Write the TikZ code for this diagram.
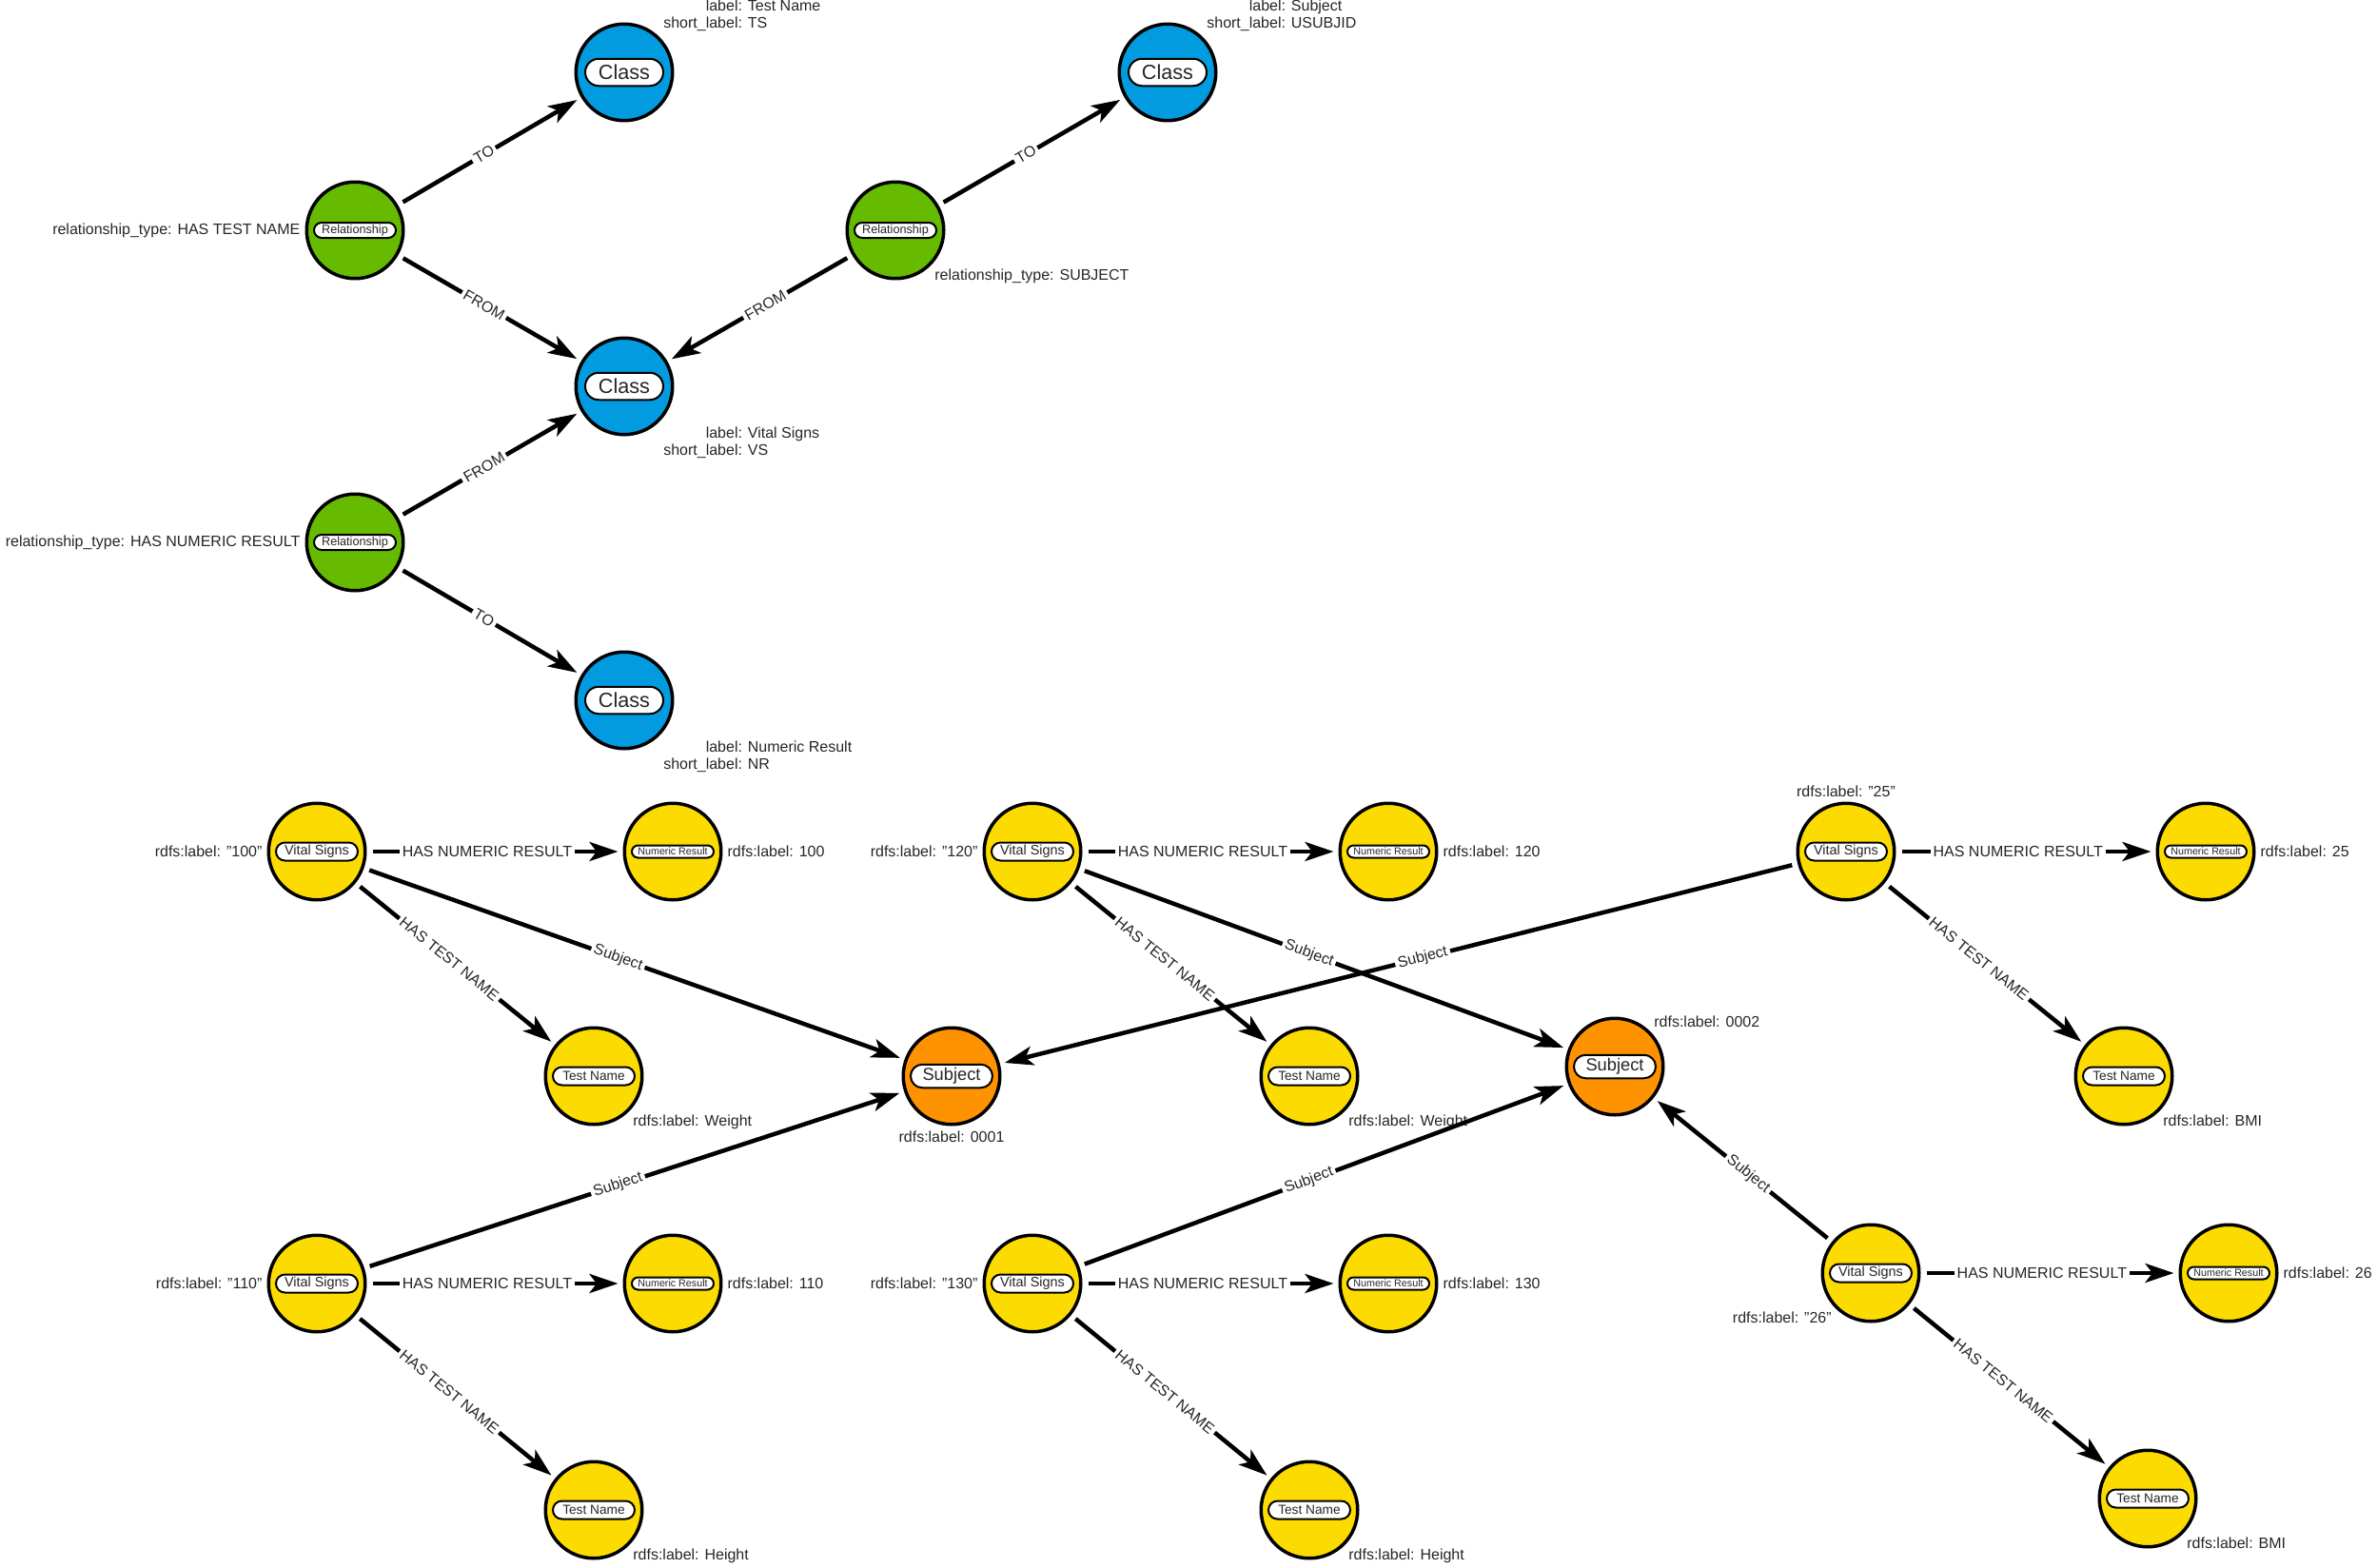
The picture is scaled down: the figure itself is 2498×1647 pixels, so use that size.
\documentclass[tikz,border=0pt]{standalone}
\usepackage{fontspec}
\setmainfont{Liberation Sans}
\usepackage{xcolor}
\usetikzlibrary{arrows.meta,shapes.misc}
\definecolor{gclass}{HTML}{039BE0}
\definecolor{grel}{HTML}{66BB00}
\definecolor{gvital}{HTML}{FCDC00}
\definecolor{gsubj}{HTML}{FF9200}
\definecolor{gtext}{HTML}{262626}
\newcommand{\twokv}[4]{\begin{tabular}{@{}r@{: }l@{}}#1&#2\\#3&#4\end{tabular}}

\begin{document}
\begin{tikzpicture}[x=0.2mm,y=-0.2mm,
  every label/.style={font=\fontsize{9.1}{10.3}\selectfont,text=gtext,inner sep=1pt,label distance=0.6mm},
  gnode/.style={circle,draw=black,line width=0.7mm,minimum size=20.3mm,inner sep=0pt},
  pill/.style={rounded rectangle,draw=black,fill=white,line width=0.4mm,inner sep=0pt,text=gtext,minimum width=17.2mm,label distance=0pt},
  cls/.style={gnode,fill=gclass,label={[pill,minimum width=16.4mm,minimum height=5.7mm,font=\fontsize{12.3}{14}\selectfont]center:Class}},
  rel/.style={gnode,fill=grel,label={[pill,minimum height=3.2mm,font=\fontsize{7.2}{8}\selectfont]center:Relationship}},
  vit/.style={gnode,fill=gvital,label={[pill,minimum height=3.8mm,font=\fontsize{8.2}{9}\selectfont]center:Vital Signs}},
  num/.style={gnode,fill=gvital,label={[pill,minimum height=2.6mm,font=\fontsize{6.1}{7}\selectfont]center:Numeric Result}},
  tst/.style={gnode,fill=gvital,label={[pill,minimum height=3.8mm,font=\fontsize{7.8}{9}\selectfont]center:Test Name}},
  sbj/.style={gnode,fill=gsubj,label={[pill,minimum height=4.9mm,font=\fontsize{10.4}{12}\selectfont]center:Subject}},
  conn/.style={-{Stealth[length=6mm,width=4mm,inset=1.5mm]},line width=0.9mm,shorten <=1.2mm,shorten >=1mm},
  conntext/.style={sloped,pos=0.47,fill=white,inner sep=0.6mm,font=\fontsize{9.1}{10}\selectfont,text=gtext}]
  \useasboundingbox (0,0) rectangle (2498,1647);
  % schema part
  \node[cls,label={45:{\twokv{label}{Test Name}{short\_label}{TS}}}] (cts) at (656,76) {};
  \node[cls,label={45:{\twokv{label}{Subject}{short\_label}{USUBJID}}}] (csu) at (1227,76) {};
  \node[cls,label={-45:{\twokv{label}{Vital Signs}{short\_label}{VS}}}] (cvs) at (656,406) {};
  \node[cls,label={-45:{\twokv{label}{Numeric Result}{short\_label}{NR}}}] (cnr) at (656,736) {};
  \node[rel,label={180:{relationship\_type: HAS TEST NAME}}] (rtn) at (373,242) {};
  \node[rel,label={-45:{relationship\_type: SUBJECT}}] (rsu) at (941,242) {};
  \node[rel,label={180:{relationship\_type: HAS NUMERIC RESULT}}] (rnr) at (373,570) {};
  \draw[conn] (rtn) -- node[conntext]{TO} (cts); \draw[conn] (rtn) -- node[conntext]{FROM} (cvs);
  \draw[conn] (rsu) -- node[conntext]{TO} (csu); \draw[conn] (rsu) -- node[conntext]{FROM} (cvs);
  \draw[conn] (rnr) -- node[conntext]{FROM} (cvs); \draw[conn] (rnr) -- node[conntext]{TO} (cnr);
  % data part
  \node[sbj,label={-90:{rdfs:label: 0001}}] (s1) at (1000,1131) {};
  \node[sbj,label={45:{rdfs:label: 0002}}] (s2) at (1697,1121) {};
  \node[vit,label={180:{rdfs:label: "100"}}] (v100) at (333,895) {};
  \node[num,label={0:{rdfs:label: 100}}] (n100) at (707,895) {};
  \node[tst,label={-45:{rdfs:label: Weight}}] (t100) at (624,1131) {};
  \node[vit,label={180:{rdfs:label: "110"}}] (v110) at (333,1349) {};
  \node[num,label={0:{rdfs:label: 110}}] (n110) at (707,1349) {};
  \node[tst,label={-45:{rdfs:label: Height}}] (t110) at (624,1587) {};
  \node[vit,label={180:{rdfs:label: "120"}}] (v120) at (1085,895) {};
  \node[num,label={0:{rdfs:label: 120}}] (n120) at (1459,895) {};
  \node[tst,label={-45:{rdfs:label: Weight}}] (t120) at (1376,1131) {};
  \node[vit,label={180:{rdfs:label: "130"}}] (v130) at (1085,1349) {};
  \node[num,label={0:{rdfs:label: 130}}] (n130) at (1459,1349) {};
  \node[tst,label={-45:{rdfs:label: Height}}] (t130) at (1376,1587) {};
  \node[vit,label={90:{rdfs:label: "25"}}] (v25) at (1940,895) {};
  \node[num,label={0:{rdfs:label: 25}}] (n25) at (2318,895) {};
  \node[tst,label={-45:{rdfs:label: BMI}}] (t25) at (2232,1131) {};
  \node[vit,label={-135:{rdfs:label: "26"}}] (v26) at (1966,1338) {};
  \node[num,label={0:{rdfs:label: 26}}] (n26) at (2342,1338) {};
  \node[tst,label={-45:{rdfs:label: BMI}}] (t26) at (2257,1575) {};
  \draw[conn] (v100) -- node[conntext]{HAS NUMERIC RESULT} (n100); \draw[conn] (v100) -- node[conntext]{HAS TEST NAME} (t100);
  \draw[conn] (v110) -- node[conntext]{HAS NUMERIC RESULT} (n110); \draw[conn] (v110) -- node[conntext]{HAS TEST NAME} (t110);
  \draw[conn] (v120) -- node[conntext]{HAS NUMERIC RESULT} (n120); \draw[conn] (v120) -- node[conntext]{HAS TEST NAME} (t120);
  \draw[conn] (v130) -- node[conntext]{HAS NUMERIC RESULT} (n130); \draw[conn] (v130) -- node[conntext]{HAS TEST NAME} (t130);
  \draw[conn] (v25) -- node[conntext]{HAS NUMERIC RESULT} (n25); \draw[conn] (v25) -- node[conntext]{HAS TEST NAME} (t25);
  \draw[conn] (v26) -- node[conntext]{HAS NUMERIC RESULT} (n26); \draw[conn] (v26) -- node[conntext]{HAS TEST NAME} (t26);
  \draw[conn] (v100) -- node[conntext]{Subject} (s1); \draw[conn] (v110) -- node[conntext]{Subject} (s1);
  \draw[conn] (v25) -- node[conntext]{Subject} (s1);
  \draw[conn] (v120) -- node[conntext]{Subject} (s2); \draw[conn] (v130) -- node[conntext]{Subject} (s2);
  \draw[conn] (v26) -- node[conntext]{Subject} (s2);
\end{tikzpicture}
\end{document}
